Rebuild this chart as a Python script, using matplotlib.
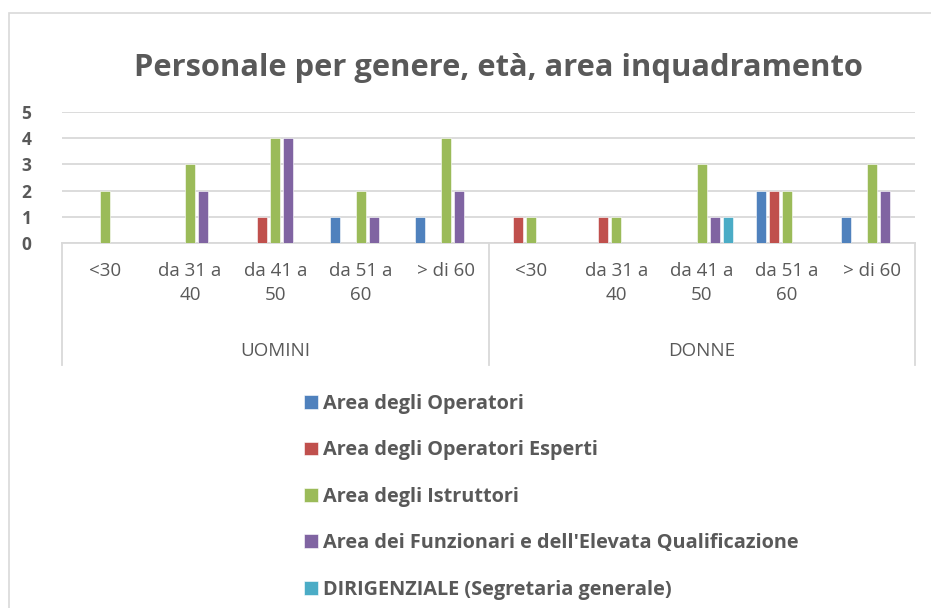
import matplotlib.pyplot as plt
import numpy as np
from matplotlib.patches import Rectangle

plt.rcParams['font.family'] = ['Open Sans', 'DejaVu Sans']

# categories (two levels)
groups = ['UOMINI', 'DONNE']
ages = ['<30', 'da 31 a\n40', 'da 41 a\n50', 'da 51 a\n60', '> di 60']

series = ['Area degli Operatori', 'Area degli Operatori Esperti',
          'Area degli Istruttori', "Area dei Funzionari e dell'Elevata Qualificazione",
          'DIRIGENZIALE (Segretaria generale)']
colors = ['#4F81BD', '#C0504D', '#9BBB59', '#8064A2', '#4BACC6']

# values: UOMINI (5 ages) then DONNE (5 ages)
operatori = [0, 0, 0, 1, 1, 0, 0, 0, 2, 1]
operatori_esperti = [0, 0, 1, 0, 0, 1, 1, 0, 2, 0]
istruttori = [2, 3, 4, 2, 4, 1, 1, 3, 2, 3]
funzionari = [0, 2, 4, 1, 2, 0, 0, 1, 0, 2]
dirigenziale = [0, 0, 0, 0, 0, 0, 0, 1, 0, 0]
values = [operatori, operatori_esperti, istruttori, funzionari, dirigenziale]

W, H = 931, 608
fig = plt.figure(figsize=(W / 100, H / 100), dpi=100)

# outer chart frame
fig.patches.append(Rectangle((9 / W, -0.1), 1.1, 1 - 13 / H + 0.1, transform=fig.transFigure,
                             fill=False, edgecolor='#d9d9d9', linewidth=1.2))

left, right, top, bottom = 62, 915, 112, 243
ax = fig.add_axes([left / W, 1 - bottom / H, (right - left) / W, (bottom - top) / H])

n = len(ages) * len(groups)
x = np.arange(n)
step = 0.152
bw = 0.117
for i, (vals, c, lab) in enumerate(zip(values, colors, series)):
    ax.bar(x + (i - 2) * step, vals, width=bw, color=c, label=lab, zorder=3,
           edgecolor='white', linewidth=0.4)

ax.set_xlim(-0.5, n - 0.5)
ax.set_ylim(0, 5)
ax.set_yticks(range(6))
ax.yaxis.grid(True, color='#d9d9d9', linewidth=1.3, zorder=0)
ax.tick_params(axis='y', length=0, pad=22, labelsize=12.5, labelcolor='#595959')
for t in ax.get_yticklabels():
    t.set_fontweight('bold')
ax.set_xticks([])
for s in ['top', 'right', 'left']:
    ax.spines[s].set_visible(False)
ax.spines['bottom'].set_color('#d9d9d9')
ax.spines['bottom'].set_linewidth(1.3)

# multi-level category axis
depth = (365 - bottom) / (bottom - top)
for xv in [-0.5, 4.5, 9.5]:
    ax.plot([xv, xv], [0, -depth], color='#d9d9d9', linewidth=1.3,
            transform=ax.get_xaxis_transform(), clip_on=False)
lab_y = -(262 - bottom) / (bottom - top)
for gi, g in enumerate(groups):
    for ai, a in enumerate(ages):
        ax.text(gi * len(ages) + ai, lab_y, a, transform=ax.get_xaxis_transform(),
                ha='center', va='top', fontsize=13.5, color='#595959', linespacing=1.4)
    ax.text(gi * len(ages) + 2, -(351 - bottom) / (bottom - top), g,
            transform=ax.get_xaxis_transform(), ha='center', va='center',
            fontsize=13.5, color='#595959')

fig.text(498 / W, 1 - 68 / H, 'Personale per genere, età, area inquadramento',
         ha='center', va='center', fontsize=22.2, fontweight='bold', color='#595959')

leg = ax.legend(loc='upper left', bbox_to_anchor=(304 / W, 1 - 394 / H),
                bbox_transform=fig.transFigure, frameon=False, handlelength=0.7,
                handleheight=0.7, handletextpad=0.25, labelspacing=1.33,
                prop={'size': 14.3, 'weight': 'bold'}, labelcolor='#595959',
                borderpad=0, borderaxespad=0)

fig.savefig('out.png', dpi=100)
